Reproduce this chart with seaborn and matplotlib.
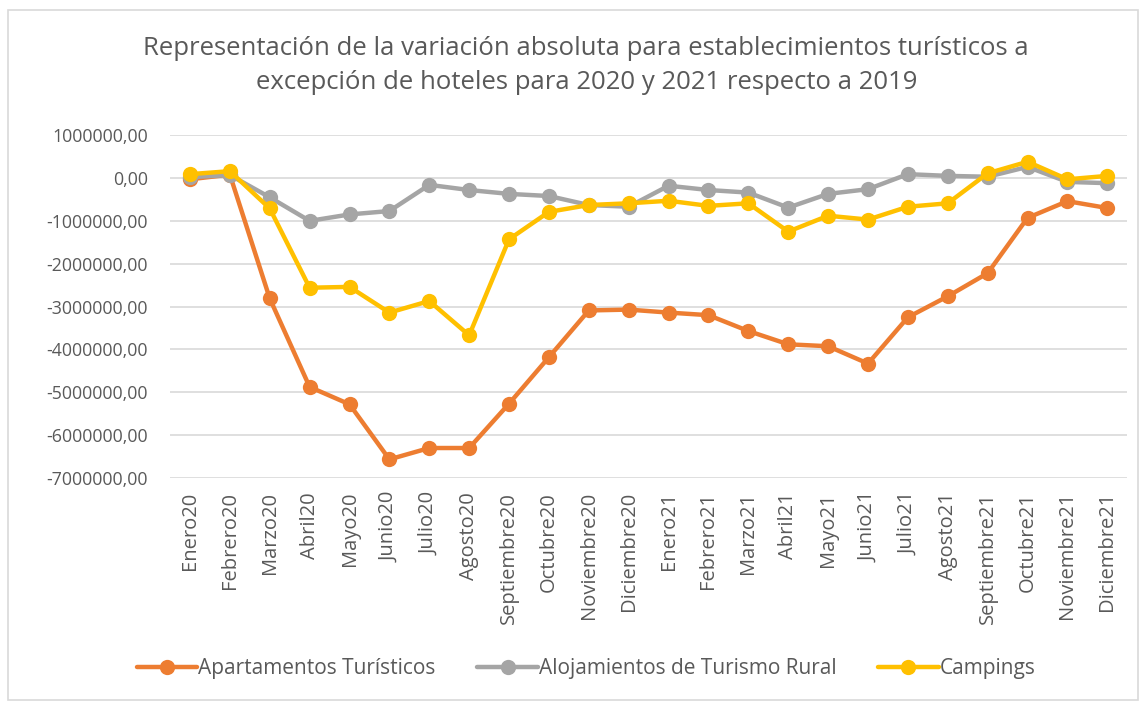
import matplotlib
matplotlib.use("Agg")
import matplotlib.pyplot as plt
import pandas as pd
import seaborn as sns

MONTHS = [
    "Enero20", "Febrero20", "Marzo20", "Abril20", "Mayo20", "Junio20",
    "Julio20", "Agosto20", "Septiembre20", "Octubre20", "Noviembre20", "Diciembre20",
    "Enero21", "Febrero21", "Marzo21", "Abril21", "Mayo21", "Junio21",
    "Julio21", "Agosto21", "Septiembre21", "Octubre21", "Noviembre21", "Diciembre21",
]

APARTAMENTOS = [
    -30000, 80000, -2810000, -4875000, -5280000, -6565000,
    -6300000, -6300000, -5265000, -4180000, -3090000, -3070000,
    -3140000, -3200000, -3570000, -3880000, -3925000, -4330000,
    -3250000, -2760000, -2220000, -930000, -540000, -700000,
]

RURAL = [
    20000, 70000, -450000, -1000000, -850000, -770000,
    -160000, -280000, -370000, -420000, -630000, -670000,
    -180000, -280000, -340000, -690000, -370000, -260000,
    90000, 50000, 30000, 260000, -90000, -120000,
]

CAMPINGS = [
    90000, 160000, -710000, -2560000, -2540000, -3140000,
    -2870000, -3670000, -1430000, -790000, -630000, -590000,
    -530000, -650000, -590000, -1250000, -880000, -970000,
    -670000, -590000, 110000, 380000, -30000, 50000,
]

SERIES = {
    "Apartamentos Turísticos": APARTAMENTOS,
    "Alojamientos de Turismo Rural": RURAL,
    "Campings": CAMPINGS,
}
COLORS = ["#ED7D31", "#A5A5A5", "#FFC000"]

Y_TICKS = [1000000, 0, -1000000, -2000000, -3000000, -4000000, -5000000, -6000000, -7000000]

TITLE = ("Representación de la variación absoluta para establecimientos turísticos a\n"
         "excepción de hoteles para 2020 y 2021 respecto a 2019")

TEXT = "#595959"


def main() -> None:
    sns.set_theme(style="white")
    plt.rcParams["font.family"] = ["Open Sans", "DejaVu Sans"]

    frame = pd.concat(
        [
            pd.DataFrame({"idx": range(len(MONTHS)), "value": values, "serie": name})
            for name, values in SERIES.items()
        ],
        ignore_index=True,
    )

    fig = plt.figure(figsize=(11.45, 7.04), dpi=100)
    ax = fig.add_axes([0.1485, 0.321, 0.836, 0.487])

    sns.lineplot(
        data=frame,
        x="idx",
        y="value",
        hue="serie",
        palette=COLORS,
        marker="o",
        markersize=11,
        markeredgewidth=0,
        linewidth=3.2,
        sort=False,
        ax=ax,
    )

    ax.set_xlim(-0.5, len(MONTHS) - 0.5)
    ax.set_ylim(-7000000, 1000000)
    ax.set_yticks(Y_TICKS)
    ax.set_yticklabels([f"{v:.2f}".replace(".", ",") for v in Y_TICKS])
    ax.set_xticks(range(len(MONTHS)))
    ax.set_xticklabels(MONTHS, rotation=90)
    ax.tick_params(axis="both", colors=TEXT, length=0)
    ax.tick_params(axis="y", labelsize=12.8, pad=16)
    ax.tick_params(axis="x", labelsize=14.5, pad=10)
    ax.set_xlabel("")
    ax.set_ylabel("")
    ax.grid(axis="y", color="#D9D9D9", linewidth=1.2)
    ax.set_axisbelow(True)
    for spine in ax.spines.values():
        spine.set_visible(False)

    handles, labels = ax.get_legend_handles_labels()
    ax.legend_.remove()
    fig.legend(
        handles,
        labels,
        loc="center",
        bbox_to_anchor=(0.512, 0.05),
        ncol=3,
        frameon=False,
        fontsize=15,
        labelcolor=TEXT,
        handlelength=2.9,
        handletextpad=0.05,
        columnspacing=2.0,
    )

    fig.text(0.512, 0.907, TITLE, ha="center", va="center", fontsize=18.5,
             color=TEXT, linespacing=1.5)

    fig.patches.append(plt.Rectangle((0.007, 0.006), 0.987, 0.98, transform=fig.transFigure,
                                     fill=False, edgecolor="#D9D9D9", linewidth=1.2))

    fig.savefig("out.png", dpi=100)
    plt.close(fig)


if __name__ == "__main__":
    main()
